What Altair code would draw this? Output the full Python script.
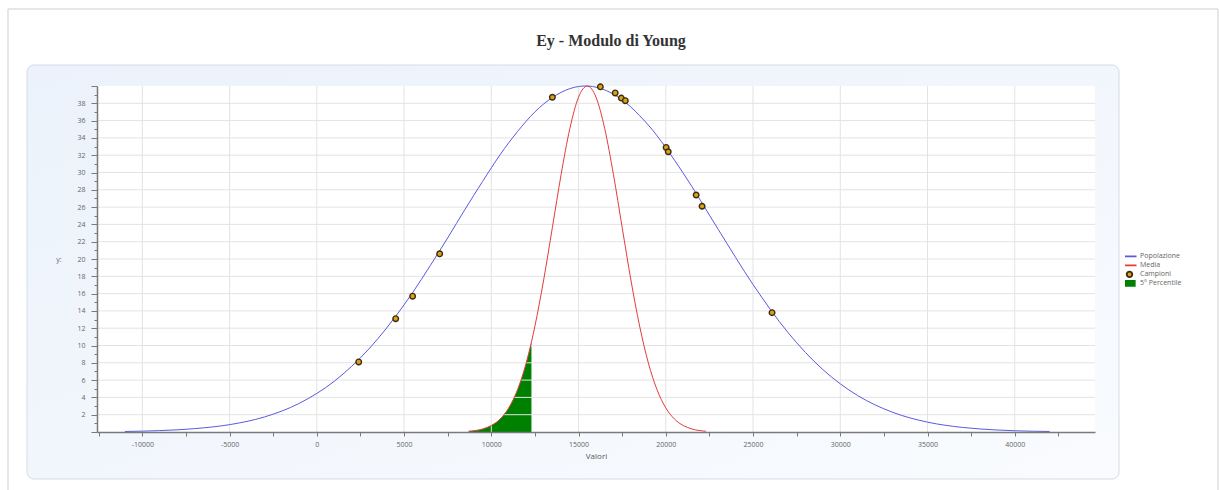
import altair as alt
import pandas as pd

# Population curve: modulus value vs. scaled density
pop_x = [-11000, -9000, -7000, -5000, -3000, -1000, 1000, 3000, 5000, 7000, 9000,
         11000, 13000, 15000, 15400, 17000, 19000, 21000, 23000, 25000, 27000,
         29000, 31000, 33000, 35000, 37000, 39000, 41000, 42000]
pop_y = [0.06, 0.16, 0.39, 0.85, 1.74, 3.32, 5.87, 9.64, 14.70, 20.82, 27.38,
         33.44, 37.92, 39.94, 40.0, 39.06, 35.48, 29.92, 23.44, 17.05, 11.51,
         7.22, 4.21, 2.28, 1.14, 0.53, 0.23, 0.09, 0.06]

# Distribution of the mean
mean_x = [8700, 9500, 10000, 10500, 11000, 11500, 12000, 12300, 12500, 13000,
          13500, 14000, 14500, 15000, 15500, 16000, 16500, 17000, 17500, 18000,
          18500, 19000, 19500, 20000, 20500, 21000, 21500, 22300]
mean_y = [0.09, 0.35, 0.75, 1.49, 2.79, 4.88, 7.99, 10.41, 12.25, 17.58,
          23.64, 29.76, 35.07, 38.71, 40.0, 38.71, 35.07, 29.76, 23.64, 17.58,
          12.25, 7.99, 4.88, 2.79, 1.49, 0.75, 0.35, 0.09]

# 5th percentile of the mean distribution
P5 = 12300

# Samples
camp_x = [2400, 4520, 5490, 7040, 13500, 16250, 17100, 17450, 17680, 20020,
          20140, 21740, 22080, 26090]
camp_y = [8.1, 13.1, 15.7, 20.6, 38.7, 39.9, 39.2, 38.6, 38.3, 32.9,
          32.4, 27.4, 26.1, 13.8]

SERIES = ["Popolazione", "Media", "Campioni", "5° Percentile"]
X_TICKS = list(range(-12500, 45000, 2500))
X_GRID = list(range(-10000, 45000, 5000))
Y_TICKS = list(range(0, 41))
Y_GRID = list(range(2, 40, 2))

W, H = 998, 346
BLUE = "#5a5ade"
RED = "#e23c3c"
GREEN = "#008000"
GRID = "#e3e3e3"

pop = pd.DataFrame({"x": pop_x, "y": pop_y})
media = pd.DataFrame({"x": mean_x, "y": mean_y})
camp = pd.DataFrame({"x": camp_x, "y": camp_y, "serie": ["Campioni"] * len(camp_x)})
one = pd.DataFrame({"k": [0]})

label_font = "Open Sans"

x_axis = alt.Axis(
    values=X_TICKS,
    labelExpr="datum.value % 5000 === 0 ? '' + datum.value : ''",
    labelOverlap=False,
    grid=False,
    domainColor="#7a7a7a",
    domainWidth=1.5,
    tickColor="#7a7a7a",
    tickSize=4,
    labelFont=label_font,
    labelFontSize=7,
    labelColor="#666666",
    labelPadding=4,
    title="Valori",
    titleFont=label_font,
    titleFontSize=8,
    titleFontWeight="normal",
    titleColor="#555555",
    titlePadding=5,
    zindex=1,
)

y_axis = alt.Axis(
    values=Y_TICKS,
    labelExpr="datum.value % 2 === 0 && datum.value > 0 && datum.value < 40 ? '' + datum.value : ''",
    labelOverlap=False,
    grid=False,
    tickSize={"condition": {"test": "datum.value % 2 === 0", "value": 6}, "value": 3},
    domainColor="#7a7a7a",
    domainWidth=1.5,
    tickColor="#7a7a7a",
    labelFont=label_font,
    labelFontSize=7,
    labelColor="#666666",
    labelPadding=6,
    title="y:",
    titleFont=label_font,
    titleFontSize=7,
    titleFontWeight="normal",
    titleColor="#666666",
    titleAngle=0,
    titleAlign="right",
    titleBaseline="middle",
    titleX=-36,
    titleY=173,
    zindex=1,
)

X = alt.X("x:Q", scale=alt.Scale(domain=[-12600, 44600], nice=False, zero=False), axis=x_axis)
Y = alt.Y("y:Q", scale=alt.Scale(domain=[0, 40], nice=False), axis=y_axis)

# Page frame and rounded panel behind the plot
frame = alt.Chart(one).mark_rect(fillOpacity=0, stroke="#cfcfcf", strokeWidth=1).encode(
    x=alt.value(-89), x2=alt.value(1121), y=alt.value(-77), y2=alt.value(430)
)
panel = alt.Chart(one).mark_rect(
    cornerRadius=7,
    fill={"gradient": "linear", "x1": 0, "y1": 0, "x2": 1, "y2": 1,
          "stops": [{"offset": 0, "color": "#ebf2fb"}, {"offset": 1, "color": "#f9fbfe"}]},
    stroke="#d5dbe3",
    strokeWidth=1,
).encode(x=alt.value(-70), x2=alt.value(1022), y=alt.value(-21), y2=alt.value(393))
plot_bg = alt.Chart(one).mark_rect(fill="white").encode(
    x=alt.value(0), x2=alt.value(W), y=alt.value(0), y2=alt.value(H)
)

title = alt.Chart(one).mark_text(
    text="Ey - Modulo di Young", font="Liberation Serif", fontSize=16, fontWeight="bold",
    color="#333333", align="center", baseline="alphabetic",
).encode(x=alt.value(514), y=alt.value(-40))

# Grid lines, drawn above the percentile area and below the curves
grid_x = alt.Chart(pd.DataFrame({"x": X_GRID})).mark_rule(color=GRID, strokeWidth=1).encode(x=X)
grid_y = alt.Chart(pd.DataFrame({"y": Y_GRID})).mark_rule(color=GRID, strokeWidth=1).encode(y=Y)

percentile = alt.Chart(media).transform_filter(f"datum.x <= {P5}").mark_area(
    color=GREEN, interpolate="monotone", opacity=1
).encode(x=X, y=Y)

pop_line = alt.Chart(pop).mark_line(color=BLUE, strokeWidth=1, interpolate="monotone").encode(x=X, y=Y)
mean_line = alt.Chart(media).mark_line(color=RED, strokeWidth=1, interpolate="monotone").encode(x=X, y=Y)

# Legend glyphs: line, dot and box
LINE = "M-2,0H2"
DOT = "M0.8,0A0.8,0.8,0,1,1,-0.8,0A0.8,0.8,0,1,1,0.8,0Z"
BOX = "M-1.5,-0.7H1.5V0.7H-1.5Z"

legend = alt.Legend(
    title=None, orient="none", legendX=1028, legendY=166, padding=0,
    labelFont=label_font, labelFontSize=7, labelColor="#666666", labelOffset=6,
    rowPadding=0, clipHeight=8.7, symbolSize=49, symbolStrokeWidth=1.8, symbolOpacity=1,
)
field = "serie:N"
points = alt.Chart(camp).mark_point(filled=True, opacity=1, strokeWidth=1.4, size=49).encode(
    x=X, y=Y,
    fill=alt.Fill(field, scale=alt.Scale(domain=SERIES, range=[BLUE, RED, "#d9a21b", GREEN]), legend=legend),
    stroke=alt.Stroke(field, scale=alt.Scale(domain=SERIES, range=[BLUE, RED, "#3d2c0c", GREEN]), legend=legend),
    shape=alt.Shape(field, scale=alt.Scale(domain=SERIES, range=[LINE, LINE, DOT, BOX]), legend=legend),
)

chart = alt.layer(
    frame, panel, plot_bg, title, percentile, grid_x, grid_y, pop_line, mean_line, points
).properties(
    width=W, height=H,
    padding={"left": 97, "top": 86, "right": 124, "bottom": 58},
    autosize=alt.AutoSizeParams(type="none"),
).configure_view(strokeWidth=0)

chart.save("out.html", embed_options={"renderer": "svg", "actions": False})
